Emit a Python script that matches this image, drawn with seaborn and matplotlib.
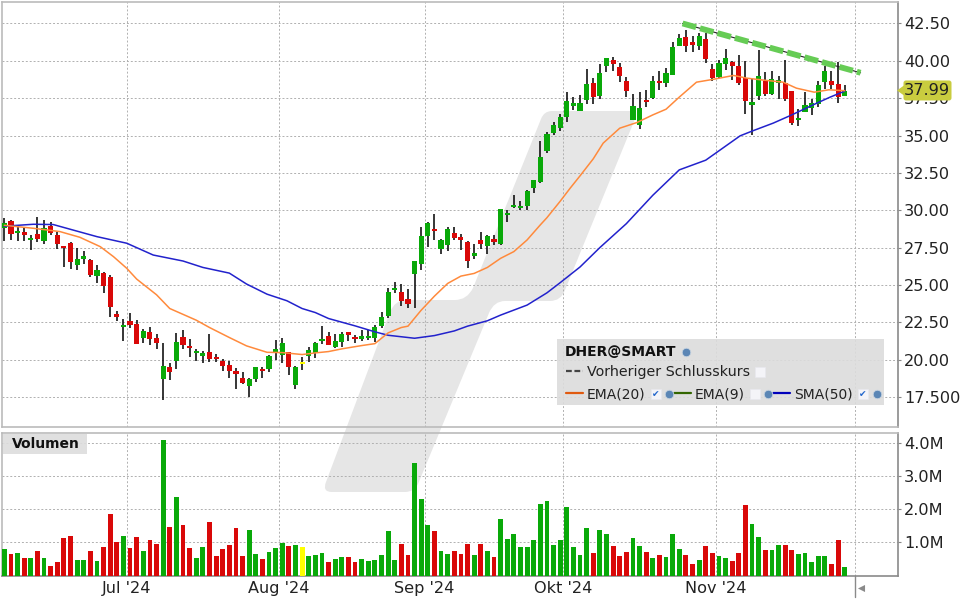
import matplotlib
matplotlib.use("Agg")
import matplotlib.pyplot as plt
from matplotlib.patches import PathPatch, Polygon, Rectangle, FancyBboxPatch
from matplotlib.path import Path
import numpy as np
import seaborn as sns

opens = [28.81, 29.28, 28.48, 28.55, 28.01, 28.41, 27.94, 28.95, 28.34, 27.61, 27.81, 26.33, 26.73, 26.67, 25.59, 25.79,
         25.53, 23.04, 22.17, 22.57, 22.37, 21.43, 21.83, 21.43, 18.68, 19.49, 19.89, 21.50, 20.89, 20.43, 20.22, 20.49,
         20.16, 19.89, 19.62, 19.22, 18.75, 18.21, 18.68, 19.35, 19.35, 20.43, 20.29, 20.49, 18.28, 19.82, 20.22, 20.43,
         21.23, 21.57, 20.83, 21.16, 21.83, 21.50, 21.36, 21.43, 21.43, 22.24, 22.91, 24.65, 24.52, 24.05, 25.73, 26.40,
         28.28, 28.75, 27.40, 27.67, 28.48, 28.21, 27.87, 26.94, 28.01, 27.61, 28.08, 27.74, 29.69, 30.22, 30.16, 30.28,
         31.48, 31.88, 33.97, 35.18, 35.51, 36.25, 36.99, 36.65, 37.39, 38.53, 37.66, 39.67, 40.07, 39.60, 38.66, 36.05,
         35.71, 37.39, 37.52, 38.66, 38.53, 39.06, 41.00, 41.61, 41.27, 41.00, 41.47, 39.46, 38.93, 39.80, 39.93, 39.67,
         38.84, 37.05, 37.66, 38.68, 37.79, 38.53, 38.53, 37.99, 36.05, 36.58, 36.85, 37.12, 38.59, 38.66, 38.46, 37.66]
highs = [29.46, 29.35, 28.86, 28.79, 28.34, 29.53, 29.35, 29.22, 28.55, 27.61, 27.87, 27.47, 27.27, 26.73, 26.33, 25.86,
         25.66, 23.24, 22.71, 23.11, 22.64, 22.04, 22.17, 21.70, 21.10, 19.75, 21.77, 21.97, 21.36, 20.69, 20.56, 21.70,
         20.36, 20.02, 19.89, 19.42, 19.15, 18.75, 19.49, 19.49, 20.29, 21.30, 21.43, 20.49, 19.55, 20.16, 20.83, 21.16,
         22.24, 21.83, 21.70, 21.83, 21.83, 21.63, 21.97, 21.97, 22.30, 23.18, 24.79, 25.19, 25.06, 24.72, 26.60, 28.88,
         29.22, 29.75, 28.08, 28.88, 28.88, 28.41, 27.94, 27.74, 28.55, 28.34, 28.34, 30.09, 30.02, 31.03, 30.63, 31.34,
         32.01, 34.61, 35.25, 35.92, 36.45, 37.92, 37.59, 37.72, 39.46, 38.86, 39.80, 40.20, 40.27, 39.87, 38.93, 37.79,
         37.92, 38.06, 39.00, 39.33, 39.53, 41.27, 41.81, 42.08, 41.67, 41.87, 41.87, 39.80, 40.07, 40.80, 40.00, 40.40,
         40.00, 38.79, 40.74, 39.26, 39.33, 39.00, 40.07, 37.99, 36.79, 37.92, 37.46, 38.66, 39.67, 39.33, 39.93, 38.39]
lows = [27.94, 28.01, 27.94, 27.94, 27.34, 27.87, 27.74, 28.34, 27.40, 26.20, 26.06, 25.99, 26.40, 25.53, 25.12, 24.45,
        22.84, 22.57, 21.23, 22.10, 21.03, 21.10, 20.96, 20.69, 17.27, 18.61, 19.35, 20.69, 20.16, 19.89, 19.75, 19.82,
        19.82, 19.22, 18.75, 18.01, 18.34, 17.47, 18.48, 18.75, 19.15, 19.96, 19.75, 18.95, 18.01, 19.28, 19.82, 20.09,
        21.03, 20.96, 20.76, 20.83, 21.23, 21.10, 21.23, 21.30, 21.16, 22.10, 22.77, 24.45, 23.58, 23.45, 23.45, 26.00,
        27.54, 28.01, 27.07, 27.27, 28.01, 27.34, 26.13, 26.73, 27.40, 27.07, 27.67, 27.67, 29.22, 30.16, 30.02, 30.01,
        31.12, 31.79, 33.84, 35.04, 35.31, 35.92, 36.72, 36.65, 37.12, 37.12, 37.46, 39.26, 39.33, 38.59, 37.59, 36.05,
        35.45, 36.92, 37.46, 38.06, 38.26, 39.06, 41.00, 40.60, 40.60, 40.74, 39.87, 38.66, 38.86, 39.40, 38.73, 38.39,
        36.45, 35.04, 37.39, 37.66, 37.72, 37.46, 37.32, 35.71, 35.65, 36.58, 36.38, 36.92, 38.12, 38.12, 37.19, 37.66]
closes = [29.15, 28.41, 28.61, 28.34, 28.14, 28.08, 28.81, 28.48, 27.74, 27.47, 26.53, 26.73, 26.94, 25.66, 25.99, 24.92,
          23.51, 22.84, 22.30, 22.30, 21.03, 21.90, 21.36, 21.10, 19.55, 19.15, 21.16, 20.96, 20.76, 20.56, 20.43, 20.02,
          20.02, 19.55, 19.22, 19.02, 18.41, 18.68, 19.49, 19.22, 20.22, 20.69, 21.10, 19.49, 19.49, 19.69, 20.63, 21.10,
          21.36, 20.96, 21.23, 21.70, 21.63, 21.36, 21.57, 21.57, 22.17, 22.84, 24.52, 24.79, 23.91, 23.71, 26.60, 28.28,
          29.15, 28.61, 28.01, 28.75, 28.14, 28.01, 26.60, 27.14, 27.74, 28.28, 27.87, 30.09, 29.82, 30.36, 30.29, 31.28,
          32.01, 33.54, 35.11, 35.71, 36.25, 37.32, 37.19, 37.19, 38.46, 37.59, 39.20, 40.20, 39.80, 39.00, 37.99, 36.99,
          36.85, 37.25, 38.66, 38.53, 39.20, 40.94, 41.54, 41.00, 41.07, 41.67, 40.13, 38.86, 39.87, 40.20, 39.67, 38.53,
          37.32, 37.25, 39.00, 37.79, 38.79, 38.73, 37.46, 35.85, 36.18, 37.05, 37.19, 38.39, 39.33, 38.39, 37.59, 37.99]
volumes = [.79, .64, .67, .52, .52, .73, .52, .28, .40, 1.12, 1.18, .46, .46, .73, .43, .85,
           1.84, 1.00, 1.18, .82, 1.15, .73, 1.06, .94, 4.07, 1.45, 2.35, 1.51, .82, .52, .85, 1.60,
           .58, .79, .91, 1.42, .58, 1.36, .64, .49, .70, .82, .97, .88, .91, .85, .58, .61,
           .67, .40, .49, .55, .55, .40, .49, .43, .46, .61, 1.33, .46, .94, .61, 3.38, 2.30,
           1.51, 1.33, .73, .64, .73, .64, .94, .61, .94, .73, .55, 1.69, 1.09, 1.24, .85, .85,
           1.06, 2.15, 2.24, .91, 1.06, 2.06, .85, .61, 1.42, .67, 1.36, 1.24, .88, .58, .70, 1.12,
           .88, .70, .52, .61, .55, 1.24, .79, .61, .34, .46, .88, .67, .58, .52, .43, .67,
           2.11, 1.54, 1.15, .76, .76, .91, .91, .76, .64, .67, .40, .58, .58, .34, 1.06, .25]
doji_days = [45]

ema20_days = [0, 4.4, 8.4, 11.4, 14.5, 16.5, 18.5, 20, 23, 25, 29, 31, 34, 36.6, 39.7, 42, 45, 47, 49, 51, 54, 56, 58, 60,
              61, 63, 65, 67, 69, 71, 73, 75, 77, 79, 81, 82, 84, 85.5, 87, 89, 90.5, 93, 95.6, 98, 100, 102, 104.6, 107,
              110.2, 112.2, 114.7, 117.7, 119.7, 122.4, 124.6, 127]
ema20_vals = [28.99, 28.79, 28.57, 28.19, 27.56, 26.89, 26.11, 25.39, 24.34, 23.42, 22.64, 22.15, 21.48, 20.92, 20.49,
              20.47, 20.34, 20.45, 20.54, 20.72, 20.94, 21.07, 21.79, 22.15, 22.24, 23.31, 24.25, 25.10, 25.59, 25.77,
              26.17, 26.78, 27.23, 28.01, 29.02, 29.50, 30.60, 31.47, 32.30, 33.44, 34.49, 35.49, 35.87, 36.38, 36.76,
              37.57, 38.57, 38.75, 39.02, 38.84, 38.71, 38.57, 38.17, 37.90, 38.06, 38.00]
sma50_days = [0, 4.4, 7.4, 10, 14, 18.5, 22.5, 27, 30, 34, 36.6, 39.7, 42.7, 45, 47, 49, 53, 56, 58, 61, 62, 65, 68, 70,
              73, 75, 79, 82, 84, 87, 90, 94, 98, 102, 106, 108.2, 111.2, 113.2, 116.2, 118.7, 122.8, 124.8, 127]
sma50_vals = [28.93, 29.06, 29.04, 28.72, 28.23, 27.79, 27.00, 26.60, 26.17, 25.79, 25.06, 24.38, 23.94, 23.42, 23.15,
              22.75, 22.26, 21.86, 21.63, 21.48, 21.43, 21.61, 21.92, 22.24, 22.60, 22.98, 23.65, 24.47, 25.15, 26.20,
              27.50, 29.10, 31.00, 32.70, 33.35, 34.04, 34.98, 35.33, 35.83, 36.32, 37.17, 37.57, 37.97]

trend_days = [102.5, 129.4]
trend_vals = [42.5, 39.2]

month_ticks = [18.5, 41.5, 63.5, 84.5, 107.5]
month_labels = ["Jul '24", "Aug '24", "Sep '24", "Okt '24", "Nov '24"]
now_tick = 128.5
price_ticks = [17.5, 20, 22.5, 25, 27.5, 30, 32.5, 35, 37.5, 40, 42.5]
price_labels = ["17.500", "20.00", "22.50", "25.00", "27.50", "30.00", "32.50", "35.00", "37.50", "40.00", "42.50"]
volume_ticks = [1, 2, 3, 4]
volume_labels = ["1.0M", "2.0M", "3.0M", "4.0M"]

GREEN = "#09a909"
RED = "#d90808"
YELLOW = "#ffff00"
FONT = "DejaVu Sans"
TEXT = "#222222"
W, H = 960, 600

sns.set_theme(style="white", font=FONT)
days = np.arange(len(closes))
colors = []
for i in days:
    if i in doji_days:
        colors.append("doji")
    elif closes[i] > opens[i]:
        colors.append("up")
    else:
        colors.append("down")
palette = {"up": GREEN, "down": RED, "doji": YELLOW}

fig = plt.figure(figsize=(W / 100, H / 100), dpi=100, facecolor="white")


def px_axes(left, top, right, bottom, **kw):
    return fig.add_axes([left / W, 1 - bottom / H, (right - left) / W, (bottom - top) / H], **kw)


# logo behind everything, pixel coords
bg = px_axes(0, 0, W, H, zorder=0)
bg.set_xlim(0, W)
bg.set_ylim(H, 0)
bg.axis("off")
M, L, Q = Path.MOVETO, Path.LINETO, Path.CURVE3
logo = [(M, (552, 111)), (L, (630, 111)), (Q, (638, 111)), (Q, (635, 119)), (L, (565, 290)), (Q, (561, 301)),
        (Q, (550, 301)), (L, (505, 301)), (Q, (494, 301)), (Q, (489, 313)), (L, (418, 484)), (Q, (414, 492)),
        (Q, (405, 492)), (L, (332, 492)), (Q, (322, 492)), (Q, (326, 482)), (L, (390, 312)), (Q, (395, 300)),
        (Q, (406, 300)), (L, (455, 300)), (Q, (467, 300)), (Q, (473, 288)), (L, (541, 119)), (Q, (544, 111)),
        (Q, (552, 111))]
bg.add_patch(PathPatch(Path([p for _, p in logo], [c for c, _ in logo]), fc="#e6e6e6", ec="none"))

ax = px_axes(1.5, 1.5, 898.3, 427, zorder=1)
ax_vol = px_axes(1.5, 432.7, 898.3, 575.5, zorder=1)

# price panel
ax.vlines(days, lows, highs, color="black", lw=1.1, zorder=3)
body_low = np.minimum(opens, closes)
body_h = np.abs(np.array(closes) - np.array(opens))
ax.bar(days, body_h, bottom=body_low, width=0.78, color=[palette[c] for c in colors], lw=0, zorder=4)
sns.lineplot(x=sma50_days, y=sma50_vals, color="#2222cc", lw=1.1, ax=ax, zorder=5)
sns.lineplot(x=ema20_days, y=ema20_vals, color="#ff8a3c", lw=1.1, ax=ax, zorder=5)
ax.plot(trend_days, trend_vals, color="#222222", lw=0.8, zorder=6)
ax.plot(trend_days, trend_vals, color="#66cc55", lw=4.2, dashes=(2.4, 0.7), zorder=7)

# volume panel
sns.barplot(x=days, y=volumes, hue=colors, palette=palette, dodge=False, native_scale=True, width=0.73,
            saturation=1, errorbar=None, legend=False, ax=ax_vol, zorder=3, linewidth=0)

for a in (ax, ax_vol):
    a.patch.set_alpha(0)
    a.set_xlim(-0.43, 135.1)
    a.set_xticks(month_ticks + [now_tick])
    a.grid(True, color="#b0b0b0", lw=0.7, ls=(0, (2, 2)), zorder=1)
    a.set_axisbelow(True)
    a.yaxis.tick_right()
    a.tick_params(axis="y", length=2, width=0.8, color="#888888", pad=2, labelsize=11.6, labelcolor=TEXT)
    a.set_xlabel("")
    a.set_ylabel("")
    for s in a.spines.values():
        s.set_color("#bbbbbb")
        s.set_linewidth(1.2)
    a.spines["right"].set_color("#8a8a8a")

ax.set_ylim(15.49, 43.97)
ax.set_yticks(price_ticks, price_labels)
ax.tick_params(axis="x", length=0, labelbottom=False)

ax_vol.set_ylim(0, 4.295)
ax_vol.set_yticks(volume_ticks, volume_labels)
ax_vol.set_xticks(month_ticks + [now_tick], month_labels + [""])
ax_vol.tick_params(axis="x", length=2, width=0.8, color="#888888", pad=2, labelsize=11.6, labelcolor=TEXT)
ax_vol.spines["bottom"].set_color("#8a8a8a")

# overlay for legend and labels, pixel coords
fg = px_axes(0, 0, W, H, zorder=5)
fg.set_xlim(0, W)
fg.set_ylim(H, 0)
fg.axis("off")
fg.patch.set_alpha(0)

fg.add_patch(Rectangle((3, 434), 84, 20, fc="#dddddd", ec="none", alpha=0.9))
fg.text(12, 444.5, "Volumen", fontsize=10, fontweight="bold", color="#111111", va="center")

fg.add_patch(Rectangle((557, 339), 327, 66, fc="#dcdcdc", ec="none", alpha=0.9))
fg.text(565, 352, "DHER@SMART", fontsize=10, fontweight="bold", color="#111111", va="center")
fg.text(587, 372, "Vorheriger Schlusskurs", fontsize=10.3, color=TEXT, va="center")
fg.text(587, 394, "EMA(20)", fontsize=10, color=TEXT, va="center")
fg.text(695, 394, "EMA(9)", fontsize=10, color=TEXT, va="center")
fg.text(794, 394, "SMA(50)", fontsize=10, color=TEXT, va="center")
fg.plot([566, 583], [371, 371], color="#444444", lw=1.6, dashes=(2.6, 1.2))
fg.plot([566, 583], [392.5, 392.5], color="#e05a10", lw=1.6)
fg.plot([674, 691], [392.5, 392.5], color="#336600", lw=1.6)
fg.plot([773, 790], [392.5, 392.5], color="#0000bb", lw=1.6)
fg.scatter([686, 669, 768, 877], [352, 394, 394, 394], s=38, color="#5b86b5", edgecolor="#c8d4e0", lw=0.6, zorder=4)
fg.scatter([760, 656, 755, 863], [372, 394, 394, 394], s=42, marker="s", color="#f4f4f8", edgecolor="#e8e8ee", lw=0.5, zorder=4)
for x in (656, 863):
    fg.text(x, 394, "\u2714", fontsize=6.5, color="#2266cc", ha="center", va="center", zorder=5)

# last price tag
tag_y = 23 + (42.5 - closes[-1]) * 14.96
fg.add_patch(Polygon([(897, tag_y), (904, tag_y - 5), (904, tag_y + 5)], fc="#c9cc3f", ec="none"))
fg.add_patch(FancyBboxPatch((905, tag_y - 8.5), 45, 17, boxstyle="round,pad=1.5,rounding_size=2.5", fc="#c9cc3f", ec="none"))
fg.text(903.5, tag_y + 0.5, f"{closes[-1]:.2f}", fontsize=11.6, color=TEXT, va="center")

# tail of the current-time line and scroll arrow
fg.plot([855.3, 855.3], [575.5, 597], color="#8a8a8a", lw=1)
fg.scatter([860.5], [588], s=26, marker="<", color="#8a8a8a", lw=0)

fig.savefig("out.png", dpi=100)
